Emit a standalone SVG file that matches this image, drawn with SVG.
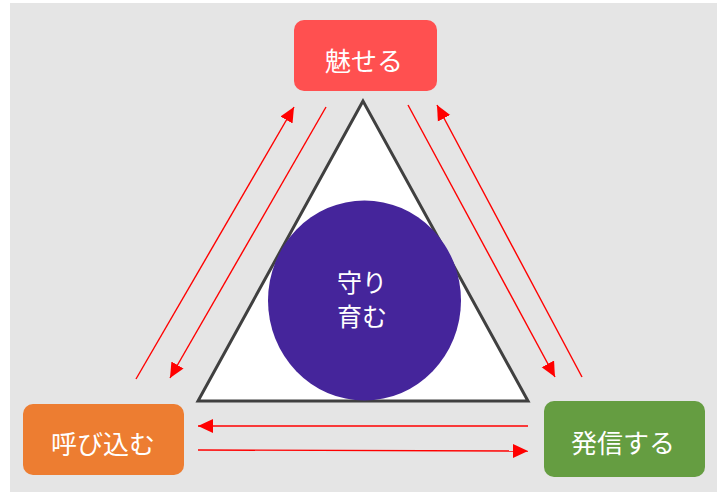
<svg xmlns="http://www.w3.org/2000/svg" width="717" height="492" viewBox="0 0 717 492">
<style>
.lbl{font-family:"Noto Sans CJK JP","Noto Sans CJK SC",sans-serif;font-size:26px;fill:#ffffff;text-anchor:middle;dominant-baseline:central}
.ctr{font-family:"Noto Sans CJK JP","Noto Sans CJK SC",sans-serif;font-size:25px;fill:#ffffff;text-anchor:middle}
.arr{stroke:#ff0000;stroke-width:1.4;fill:none;marker-end:url(#ah)}
</style>
<defs>
<marker id="ah" markerUnits="userSpaceOnUse" markerWidth="16" markerHeight="16" viewBox="0 0 16 16" refX="15" refY="8" orient="auto">
<path d="M0,1 L15,8 L0,15 Z" fill="#ff0000"/>
</marker>
</defs>
<rect x="10" y="3" width="707" height="489" fill="#e5e5e5"/>
<g id="triangle">
<polygon points="363,101 198,401 528,401" fill="#ffffff" stroke="#404040" stroke-width="3" stroke-linejoin="miter"/>
</g>
<g id="center">
<ellipse cx="364.5" cy="300.5" rx="96.5" ry="100" fill="#45259b"/>
<text class="ctr" x="362" y="292"><tspan x="362" y="292">守り</tspan><tspan x="362" y="326">育む</tspan></text>
</g>
<g id="top">
<rect x="294" y="20" width="143" height="71" rx="10" fill="#ff5050"/>
<text class="lbl" x="364" y="59">魅せる</text>
</g>
<g id="left">
<rect x="23" y="404" width="161" height="71" rx="10" fill="#ed7d31"/>
<text class="lbl" x="103" y="442">呼び込む</text>
</g>
<g id="right">
<rect x="544" y="401" width="161" height="76" rx="10" fill="#659d41"/>
<text class="lbl" x="623" y="441">発信する</text>
</g>
<g id="connectors">
<line class="arr" x1="136" y1="379" x2="294" y2="107"/>
<line class="arr" x1="326" y1="107" x2="170" y2="378"/>
<line class="arr" x1="408" y1="105" x2="555" y2="377"/>
<line class="arr" x1="582" y1="377" x2="437" y2="105"/>
<line class="arr" x1="528" y1="426" x2="198" y2="426"/>
<line class="arr" x1="198" y1="450" x2="528" y2="451"/>
</g>
</svg>
